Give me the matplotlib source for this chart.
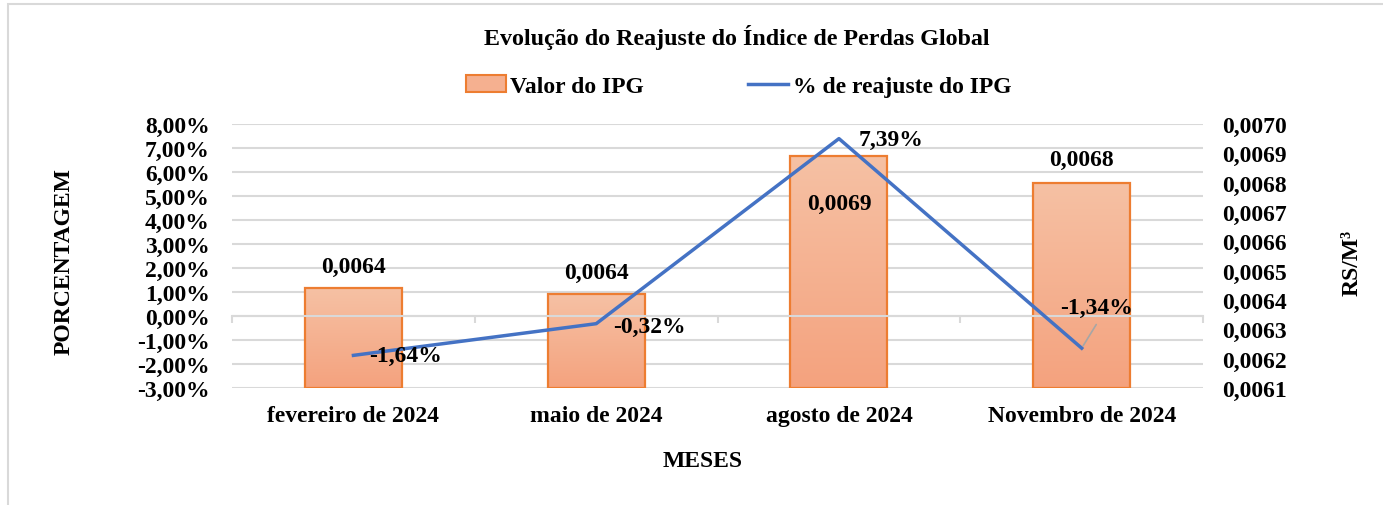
import numpy as np
import matplotlib.pyplot as plt
from matplotlib.patches import Rectangle
from matplotlib.lines import Line2D
from matplotlib.colors import LinearSegmentedColormap
from matplotlib.ticker import FuncFormatter

plt.rcParams['font.family'] = ['Liberation Serif', 'DejaVu Serif']
plt.rcParams['font.weight'] = 'bold'

meses = ["fevereiro de 2024", "maio de 2024", "agosto de 2024", "Novembro de 2024"]
valor_ipg = [0.00644, 0.00642, 0.00689, 0.00680]
valor_lbl = ["0,0064", "0,0064", "0,0069", "0,0068"]
reajuste = [-1.64, -0.32, 7.39, -1.34]
reajuste_lbl = ["-1,64%", "-0,32%", "7,39%", "-1,34%"]

FS = 17

fig = plt.figure(figsize=(13.83, 5.06), dpi=100)
fig.patches.append(Rectangle((0.006, -0.01), 1.0, 1.0, transform=fig.transFigure,
                             fill=False, edgecolor='#D9D9D9', linewidth=1.5))

pos = [0.1678, 0.2312, 0.7021, 0.5218]
ax = fig.add_axes(pos)
ax2 = ax.twinx()
ax3 = fig.add_axes(pos)
ax3.patch.set_visible(False)

x = np.arange(len(meses))

# grid (left scale)
ax.set_ylim(-3, 8)
ax.set_yticks(np.arange(-3, 9, 1))
ax.yaxis.set_major_formatter(FuncFormatter(lambda v, p: f"{v:.2f}%".replace('.', ',')))
ax.grid(axis='y', color='#D9D9D9', linewidth=1.5)
ax.set_axisbelow(True)
ax.set_xlim(-0.5, 3.5)
ax.set_xticks(x)
ax.set_xticklabels(meses, fontsize=FS)
ax.tick_params(axis='x', length=0, pad=12)
ax.tick_params(axis='y', length=0, pad=16, labelsize=FS)
for s in ax.spines.values():
    s.set_visible(False)

# bars (right scale)
cmap = LinearSegmentedColormap.from_list('ipg', ['#F4A27E', '#F6C1A4'])
bars = ax2.bar(x, [v - 0.0061 for v in valor_ipg], width=0.4, bottom=0.0061,
               facecolor='none', edgecolor='#ED7D31', linewidth=1.6, zorder=3)
grad = np.linspace(0, 1, 256).reshape(-1, 1)
for b in bars:
    im = ax2.imshow(grad, cmap=cmap, origin='lower', aspect='auto', zorder=2,
                    extent=[b.get_x(), b.get_x() + b.get_width(), b.get_y(), b.get_y() + b.get_height()])
    im.set_clip_path(b)
ax2.set_ylim(0.0061, 0.0070)
ax2.set_yticks(np.arange(0.0061, 0.00705, 0.0001))
ax2.yaxis.set_major_formatter(FuncFormatter(lambda v, p: f"{v:.4f}".replace('.', ',')))
ax2.tick_params(axis='y', length=0, pad=14, labelsize=FS)
ax2.set_xlim(-0.5, 3.5)
for s in ax2.spines.values():
    s.set_visible(False)

offs_bar = [(0, 22), (0, 22), (0, -47), (0, 23)]
for xi, v, t, o in zip(x, valor_ipg, valor_lbl, offs_bar):
    ax2.annotate(t, (xi, v), xytext=(o[0] * 0.72, o[1] * 0.72), textcoords='offset points',
                 ha='center', va='center', fontsize=FS, zorder=6)

# line and zero axis (left scale, on top)
ax3.set_xlim(-0.5, 3.5)
ax3.set_ylim(-3, 8)
ax3.plot(x, reajuste, color='#4472C4', linewidth=2.5, zorder=4)
ax3.spines['bottom'].set_position(('data', 0))
ax3.spines['bottom'].set_color('#D9D9D9')
ax3.spines['bottom'].set_linewidth(1.5)
for k in ['top', 'left', 'right']:
    ax3.spines[k].set_visible(False)
ax3.set_xticks(np.arange(-0.5, 4, 1))
ax3.tick_params(axis='x', length=5, width=1.5, color='#D9D9D9', labelbottom=False, direction='out')
ax3.tick_params(axis='y', left=False, labelleft=False)

offs_line = [(52, 0), (53, -3), (52, -1), (15, 41)]
for xi, v, t, o in zip(x, reajuste, reajuste_lbl, offs_line):
    ax3.annotate(t, (xi, v), xytext=(o[0] * 0.72, o[1] * 0.72), textcoords='offset points',
                 ha='center', va='center', fontsize=FS, zorder=6)
ax3.annotate('', (x[3], reajuste[3]), xytext=(16 * 0.72, 26 * 0.72), textcoords='offset points',
             arrowprops=dict(arrowstyle='-', color='#A6A6A6', linewidth=1.2))

fig.text(0.533, 0.925, "Evolução do Reajuste do Índice de Perdas Global",
         ha='center', va='center', fontsize=17.3)
fig.text(0.046, 0.484, "PORCENTAGEM", rotation=90, ha='center', va='center', fontsize=FS)
fig.text(0.978, 0.48, "RS/M³", rotation=90, ha='center', va='center', fontsize=FS)
fig.text(0.508, 0.087, "MESES", ha='center', va='center', fontsize=FS)

handles = [Rectangle((0, 0), 1, 1, facecolor='#F5B090', edgecolor='#ED7D31', linewidth=1.5),
           Line2D([], [], color='#4472C4', linewidth=2.5)]
fig.legend(handles, ["Valor do IPG", "% de reajuste do IPG"], loc='center',
           bbox_to_anchor=(0.534, 0.828), ncol=2, frameon=False, fontsize=FS,
           handlelength=1.7, handletextpad=0.2, columnspacing=4.4)

fig.savefig("out.png", dpi=100)
